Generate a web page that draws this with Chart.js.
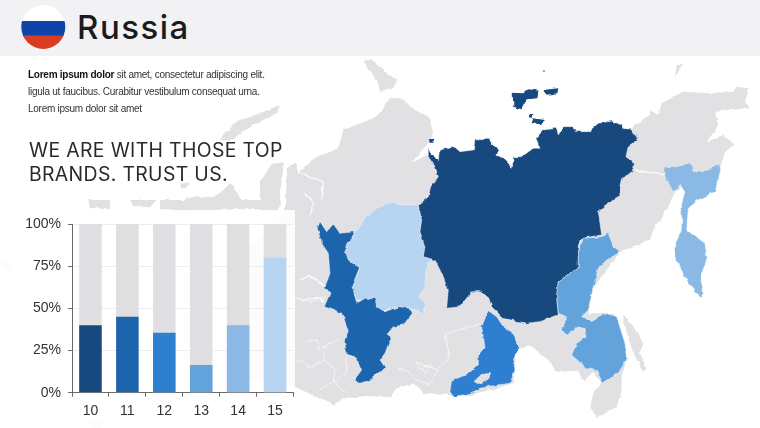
<!DOCTYPE html>
<html>
<head>
<meta charset="utf-8">
<title>Russia</title>
<script src="https://cdn.jsdelivr.net/npm/chart.js@4/dist/chart.umd.min.js"></script>
<style>
html,body{margin:0;padding:0;background:#fff;}
#page{position:relative;width:760px;height:428px;overflow:hidden;background:#fff;}
#map{position:absolute;left:0;top:0;}
#head{position:absolute;left:0;top:0;width:760px;height:56px;background:#f2f2f4;}
#title{position:absolute;left:77px;top:6px;font:500 33px/42px Inter,sans-serif;color:#1b1b1d;letter-spacing:1.5px;}
.txt{position:absolute;left:28px;font:10px/17px "Liberation Sans",sans-serif;letter-spacing:-.26px;color:#333;white-space:nowrap;}
.big{position:absolute;left:29px;font:400 19.4px/23px Inter,sans-serif;color:#2a2a2c;white-space:nowrap;letter-spacing:.35px;}
#panel{position:absolute;left:0;top:210px;width:295px;height:218px;background:rgba(255,255,255,.88);}
#box{position:absolute;left:0;top:200px;width:310px;height:228px;}
</style>
</head>
<body>
<div id="page">

<svg id="map" width="760" height="428">
<defs>
<filter id="rough" filterUnits="userSpaceOnUse" x="0" y="0" width="760" height="428" color-interpolation-filters="sRGB">
<feTurbulence type="fractalNoise" baseFrequency=".14" numOctaves="2" seed="4" result="n"/>
<feDisplacementMap in="SourceGraphic" in2="n" scale="3.5" xChannelSelector="R" yChannelSelector="G"/>
<feGaussianBlur stdDeviation=".35"/>
</filter>
</defs>
<g filter="url(#rough)">
<!-- land, coordinates taken from a 3x crop -->
<g transform="translate(300,60) scale(.3333)" fill="#e1e1e4" stroke="none">
<path d="M-60,480 L-30,400 0,335 50,290 115,265 130,210 230,170 270,115 300,115 345,152 395,175 395,235 335,308 390,280 405,330 420,350 395,400 360,430 600,600 1000,200 1050,165 1050,150 1075,165 1085,130 1150,95 1220,100 1300,95 1310,80 1345,85 1335,130 1350,145 1290,150 1245,155 1255,195 1220,245 1270,225 1305,255 1275,275 1262,320 1180,340 1120,405 1105,440 1060,510 1050,540 965,572 880,680 865,760 940,760 975,850 980,910 965,945 965,990 950,1040 890,1075 870,1040 880,1000 905,970 880,935 850,965 835,932 770,935 745,900 690,855 650,870 640,970 590,985 510,1005 450,1005 370,1000 340,970 290,985 270,1012 200,1008 130,1015 100,1035 60,1015 -15,981 -200,950 -200,600 Z"/>
<path d="M190,5 L215,0 255,35 290,60 280,85 245,95 225,50 Z"/>
<path d="M1130,18 L1150,14 1125,50 Z"/>
<path d="M965,760 L1000,800 1030,850 1020,880 1040,925 1030,935 1000,880 975,800 Z"/>
<path d="M730,31 l4,0 0,4 -4,0 Z" fill="#555"/>
</g>
<g transform="translate(180,56) scale(.3333)" fill="#e1e1e4" stroke="none">
<path d="M118,250 L172,195 240,172 298,147 292,172 232,200 192,225 150,255 Z"/>
<path d="M240,372 L275,325 312,318 305,372 300,440 296,465 240,465 Z"/>
<path d="M-20,440 L50,420 105,425 150,382 205,455 -20,470 Z"/>
<path d="M320,340 L345,320 370,395 385,420 340,470 318,470 Z"/>
<path d="M5,385 l20,-10 -4,22 -15,0 Z"/>
</g>
<g transform="translate(0,200) scale(.3333)" fill="#e1e1e4">
<path d="M265,0 L330,0 330,25 270,25 Z"/>
<path d="M390,0 L470,0 450,22 400,18 Z"/>
<path d="M480,0 L560,0 570,28 480,28 Z"/>
<path d="M640,0 L780,0 780,28 640,28 Z"/>
<path d="M0,190 L22,182 45,208 35,216 Z"/>
<path d="M265,660 L305,660 305,684 285,684 Z"/>
</g>
<!-- white gulfs and inner borders -->
<g transform="translate(300,60) scale(.3333)" fill="none" stroke="#fbfbfd" stroke-width="4">
<path d="M0,340 L30,352 70,365 65,418"/>
<path d="M10,395 L40,430 30,470"/>
<path d="M1005,330 L1090,345"/>
<path d="M0,718 L50,715 72,722"/>
<path d="M0,660 L30,648 75,680"/>
</g>
<g transform="translate(285,290) scale(.3333)" fill="none" stroke="#f6f6f8" stroke-width="3">
<path d="M30,25 L80,35 120,20"/>
<path d="M65,155 L95,150 100,178 120,165 165,148"/>
<path d="M35,215 L50,212 75,232 115,212 120,165"/>
<path d="M120,212 L150,240 145,275 100,300"/>
<path d="M185,200 L185,240 150,275 190,320"/>
<path d="M335,238 L360,240 395,270 430,285 460,240 390,215 420,250 440,225 400,235"/>
<path d="M480,130 L490,175 490,210 455,240"/>
<path d="M480,130 L570,108 585,100"/>
</g>
<!-- coloured regions -->
<g transform="translate(300,60) scale(.3333)" stroke="#eef3fa" stroke-width="1.5">
<path fill="#b7d4f0" d="M355,435 L300,435 270,428 230,445 195,475 165,520 135,570 145,600 180,625 155,680 170,720 220,715 230,755 290,740 335,745 370,765 375,735 360,710 375,670 380,610 400,600 370,590 375,560 360,515 365,480 Z"/>
<path fill="#17497e" d="M385,265 L415,305 418,270 465,262 480,275 520,270 525,240 565,238 595,270 590,285 610,295 637,322 640,290 665,290 700,265 720,265 708,235 730,210 770,205 775,225 790,200 820,200 830,215 865,215 895,190 935,183 965,195 975,210 990,205 1015,238 985,258 978,290 1003,310 1000,335 965,355 958,385 960,410 925,430 895,455 900,490 905,525 860,532 840,540 835,580 835,625 775,665 770,710 775,765 720,785 680,790 610,775 575,740 568,715 540,695 515,695 480,740 440,745 445,690 430,650 405,600 370,590 375,560 360,515 365,480 355,435 385,410 392,380 415,350 405,320 385,290 Z"/>
<path fill="#17497e" stroke="none" d="M638,98 L670,100 685,88 715,92 712,115 680,118 665,148 640,140 Z M728,90 L775,85 772,100 740,104 Z M700,175 L735,180 722,193 695,190 Z M388,238 L404,236 400,248 388,248 Z M690,162 l10,0 -2,12 -8,-2 Z"/>
<path fill="#1c64ab" d="M60,485 L80,515 100,492 120,520 165,515 135,570 145,600 178,625 155,680 160,690 170,730 195,715 225,715 230,740 255,755 295,740 330,745 337,760 310,795 280,800 265,820 270,840 255,880 240,900 255,922 210,960 180,970 163,960 185,930 170,895 140,880 133,840 145,810 125,760 73,740 90,700 75,680 90,640 85,580 65,550 52,505 Z"/>
<path fill="#2f7fd0" d="M565,752 L590,770 610,800 640,820 655,865 640,900 645,930 630,970 590,975 540,985 510,1000 465,1010 450,995 455,960 500,945 535,915 535,885 555,860 545,800 Z"/>
<path fill="#e1e1e4" stroke="none" d="M520,965 L545,942 575,938 565,960 535,972 Z"/>
<path fill="#62a3dc" d="M850,535 L905,530 925,520 940,560 962,575 920,600 895,625 880,680 865,750 845,770 875,785 900,770 925,760 950,770 975,850 980,900 960,930 945,945 905,970 895,935 860,925 815,885 830,850 858,830 855,805 830,800 805,825 785,815 800,770 775,760 770,705 775,665 835,625 835,580 Z"/>
<path fill="#8ab9e5" d="M1090,325 L1130,320 1170,308 1180,335 1225,330 1258,310 1262,330 1245,395 1195,420 1165,445 1160,510 1215,550 1222,595 1205,640 1210,700 1200,715 1160,660 1125,590 1120,565 1145,510 1145,430 1155,395 1140,375 1120,395 1095,350 Z"/>
</g>
</g>
</svg>

<div id="head"></div>
<svg style="position:absolute;left:0;top:0" width="70" height="56">
<defs>
<clipPath id="flagclip"><circle cx="43.3" cy="27" r="22"/></clipPath>
</defs>
<g clip-path="url(#flagclip)">
<rect x="20" y="4" width="48" height="18" fill="#ffffff"/>
<rect x="20" y="21" width="48" height="15.5" fill="#0c44aa"/>
<rect x="20" y="35.5" width="48" height="15" fill="#d93c22"/>
</g>
</svg>
<div id="title">Russia</div>

<div class="txt" style="top:66px"><b style="color:#111">Lorem ipsum dolor</b> sit amet, consectetur adipiscing elit.</div>
<div class="txt" style="top:82.5px">ligula ut faucibus. Curabitur vestibulum consequat urna.</div>
<div class="txt" style="top:99.5px">Lorem ipsum dolor sit amet</div>
<div class="big" style="top:139px">WE ARE WITH THOSE TOP</div>
<div class="big" style="top:162.5px">BRANDS. TRUST US.</div>

<div id="panel"></div>
<div id="box"><canvas id="chart" width="310" height="228"></canvas></div>
</div>

<script>
const categories=['10','11','12','13','14','15'];
const values=[40,45,35.6,16.4,40,80];
const track=[100,100,100,100,100,100];
const barColors=['#17497e','#1c64ab','#2f7fd0','#62a3dc','#8ab9e5','#b7d4f0'];
const yTicks=[0,25,50,75,100];

const ctx=document.getElementById('chart');

new Chart(ctx,{
type:'bar',
data:{
labels:categories,
datasets:[
{data:values,backgroundColor:barColors,order:1,grouped:false},
{data:track,backgroundColor:'#dfdfe1',order:2,grouped:false}
]
},
options:{
responsive:false,
animation:false,
devicePixelRatio:1,
barPercentage:.61,
categoryPercentage:1,
layout:{padding:{top:24,right:16.5,left:0,bottom:0}},
plugins:{legend:{display:false},tooltip:{enabled:false}},
scales:{
x:{
afterFit:function(s){s.height=35.3;},
grid:{drawOnChartArea:false,color:'#6a6a6a',tickLength:4},
border:{color:'#6a6a6a'},
ticks:{color:'#333',padding:6,maxRotation:0,font:{family:'Liberation Sans',size:14}}
},
y:{
min:0,
max:100,
afterFit:function(s){s.width=72;},
afterBuildTicks:function(s){s.ticks=yTicks.map(v=>({value:v}));},
grid:{color:'rgba(222,222,228,.55)',tickColor:'#6a6a6a',tickLength:4},
border:{color:'#6a6a6a'},
ticks:{color:'#333',padding:7,font:{family:'Liberation Sans',size:14},callback:v=>v+'%'}
}
}
}
});
</script>
</body>
</html>
